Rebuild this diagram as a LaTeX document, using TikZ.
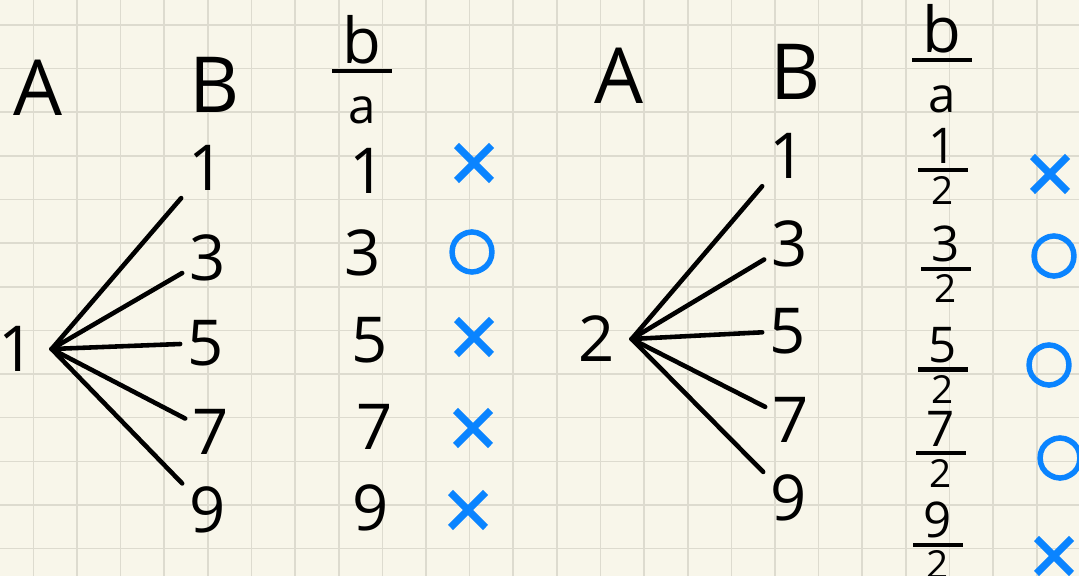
\documentclass[tikz,border=0pt]{standalone}
\usepackage{fontspec}
\setmainfont{Open Sans}
\newfontfamily\kreuzfont[FakeBold=2.5]{DejaVu Sans}
\newfontfamily\kreisfont[FakeBold=4]{DejaVu Sans}
\usetikzlibrary{positioning}
\definecolor{papier}{RGB}{248,246,234}
\definecolor{raster}{RGB}{221,219,207}
\definecolor{stift}{RGB}{10,132,255}
% Bruch: #1 = Abstand Strich bis Oberkante Nenner (als Strut), #2 Zaehler, #3 Nenner
\newcommand\bruch[3][10pt]{{\renewcommand\arraystretch{0}\setlength\arrayrulewidth{1.2pt}%
  \begin{tabular}{@{\hspace{3pt}}c@{\hspace{3pt}}}#2\\[1.5pt]\hline\rule{0pt}{#1}#3\end{tabular}}}
\newcommand\unten{\fontsize{11}{13}\selectfont}
\tikzset{
  kopf/.style={font=\fontsize{22}{26}\selectfont, inner sep=0pt},
  zahl/.style={font=\fontsize{18}{22}\selectfont, inner sep=2pt},
  wurzel/.style={font=\fontsize{18}{22}\selectfont, inner xsep=4.5pt, inner ysep=2pt},
  kopfbruch/.style={font=\fontsize{18}{22}\selectfont, inner sep=0pt},
  bruchzahl/.style={font=\fontsize{14}{16}\selectfont, inner sep=0pt},
  kreuz/.style={text=stift, font=\kreuzfont\fontsize{19}{22}\selectfont, inner sep=0pt},
  kreis/.style={text=stift, font=\kreisfont\fontsize{16}{19}\selectfont, inner sep=0pt},
  ast/.style={line width=1.3pt, line cap=round}
}

\begin{document}
\begin{tikzpicture}[x=0.01cm, y=-0.01cm]
    \useasboundingbox (0,0) rectangle (1079,576);
    \clip (0,0) rectangle (1079,576);
    \fill[papier] (0,0) rectangle (1079,576);
    % Karopapier
    \foreach \i in {0,...,23}
      \draw[raster, line width=0.45pt] ({33.3+\i*43.63},0) -- ++(0,576);
    \foreach \j in {0,...,12}
      \draw[raster, line width=0.45pt] (0,{25+\j*43.63}) -- ++(1079,0);

    % linke Tabelle, a = 1
    \node[kopf] (al) at (38,88) {A};
    \node[kopf] (bl) at (215,85) {B};
    \node[kopfbruch] (fl) at (362,70) {\bruch[14.3pt]{b}{\fontsize{14}{16}\selectfont a}};
    \node[wurzel] (wl) at (17,349) {1};
    \node[zahl] (bl1) at (207,168) {1};
    \node[zahl] (bl3) at (208,258) {3};
    \node[zahl] (bl5) at (206,343) {5};
    \node[zahl] (bl7) at (211,432) {7};
    \node[zahl] (bl9) at (208,510) {9};
    \node[zahl] (ql1) at (368,171) {1};
    \node[zahl] (ql3) at (363,253) {3};
    \node[zahl] (ql5) at (370,340) {5};
    \node[zahl] (ql7) at (375,427) {7};
    \node[zahl] (ql9) at (371,508) {9};
    \node[kreuz] (ml1) at (474,164) {×};
    \node[kreis] (ml3) at (472,252) {○};
    \node[kreuz] (ml5) at (474,338) {×};
    \node[kreuz] (ml7) at (473,429) {×};
    \node[kreuz] (ml9) at (468,511) {×};
    \draw[ast] (wl.east) -- (bl1);
    \draw[ast] (wl.east) -- (bl3);
    \draw[ast] (wl.east) -- (bl5);
    \draw[ast] (wl.east) -- (bl7);
    \draw[ast] (wl.east) -- (bl9);

    % rechte Tabelle, a = 2
    \node[kopf] (ar) at (619,76) {A};
    \node[kopf] (br) at (796,72) {B};
    \node[kopfbruch] (fr) at (942,59) {\bruch[14.3pt]{b}{\fontsize{14}{16}\selectfont a}};
    \node[wurzel] (wr) at (597,339) {2};
    \node[zahl] (br1) at (788,156) {1};
    \node[zahl] (br3) at (790,244) {3};
    \node[zahl] (br5) at (788,331) {5};
    \node[zahl] (br7) at (791,420) {7};
    \node[zahl] (br9) at (789,498) {9};
    \node[bruchzahl] (qr1) at (943,166) {\bruch[9pt]{1}{\unten 2}};
    \node[bruchzahl] (qr3) at (946,264) {\bruch[9pt]{3}{\unten 2}};
    \node[bruchzahl] (qr5) at (943,365) {\bruch[9pt]{5}{\unten 2}};
    \node[bruchzahl] (qr7) at (941,449) {\bruch[9pt]{7}{\unten 2}};
    \node[bruchzahl] (qr9) at (938,540) {\bruch[9pt]{9}{\unten 2}};
    \node[kreuz] (mr1) at (1050,175) {×};
    \node[kreis] (mr3) at (1054,256) {○};
    \node[kreis] (mr5) at (1049,365) {○};
    \node[kreis] (mr7) at (1060,458) {○};
    \node[kreuz] (mr9) at (1054,557) {×};
    \draw[ast] (wr.east) -- (br1);
    \draw[ast] (wr.east) -- (br3);
    \draw[ast] (wr.east) -- (br5);
    \draw[ast] (wr.east) -- (br7);
    \draw[ast] (wr.east) -- (br9);
\end{tikzpicture}
\end{document}
